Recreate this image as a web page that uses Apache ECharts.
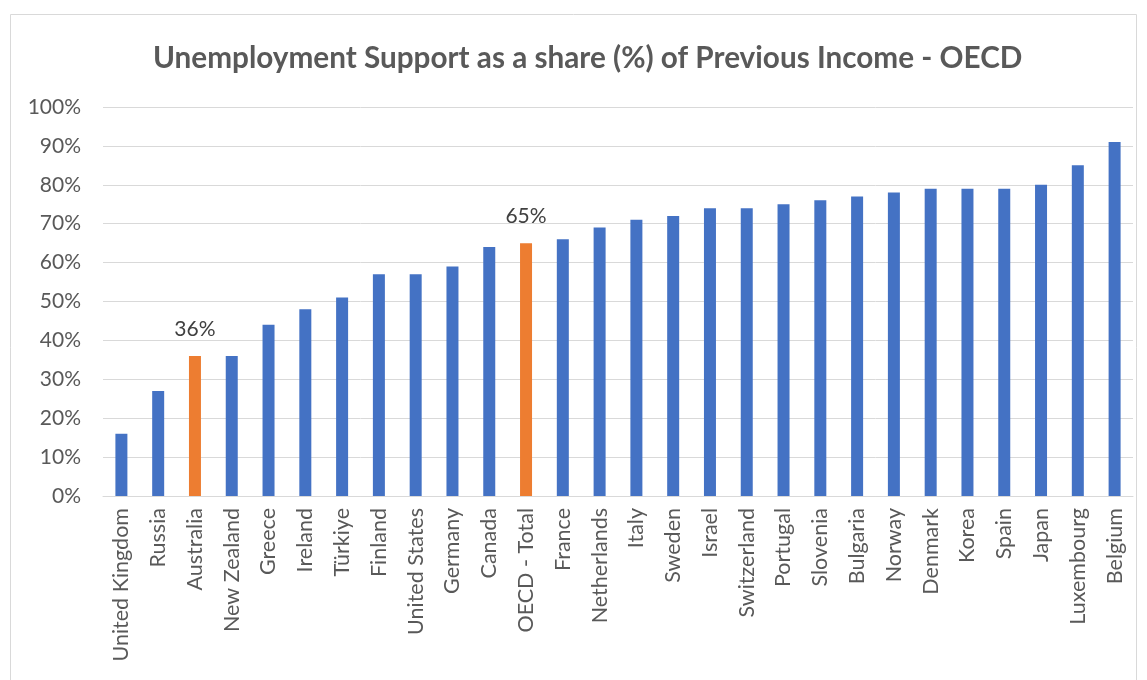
<!DOCTYPE html>
<html>
<head>
<meta charset="utf-8">
<script src="https://cdn.jsdelivr.net/npm/echarts@6/dist/echarts.min.js"></script>
<style>html,body{margin:0;padding:0;background:#fff;}#c{width:1147px;height:680px;}</style>
</head>
<body>
<div id="c"></div>
<script>
const categories = ["United Kingdom","Russia","Australia","New Zealand","Greece","Ireland","Türkiye","Finland","United States","Germany","Canada","OECD - Total","France","Netherlands","Italy","Sweden","Israel","Switzerland","Portugal","Slovenia","Bulgaria","Norway","Denmark","Korea","Spain","Japan","Luxembourg","Belgium"];
const values = [16,27,36,36,44,48,51,57,57,59,64,65,66,69,71,72,74,74,75,76,77,78,79,79,79,80,85,91];
const highlighted = ["Australia","OECD - Total"];
const yTicks = [0,10,20,30,40,50,60,70,80,90,100];

const FONT = 'Lato, "Liberation Sans", sans-serif';
const chart = echarts.init(document.getElementById('c'));
chart.setOption({
  animation: false,
  title: {
    text: 'Unemployment Support as a share (%) of Previous Income - OECD',
    left: 148, top: 38,
    textStyle: {fontFamily: FONT, fontSize: 29.7, fontWeight: 'bold', color: '#595959'}
  },
  graphic: [{type: 'rect', shape: {x: 10.5, y: 14.5, width: 1126, height: 700}, style: {fill: 'none', stroke: '#d9d9d9', lineWidth: 1}, z: -1}],
  grid: {left: 103, right: 14, top: 107, bottom: 184},
  xAxis: {
    type: 'category', data: categories,
    axisLine: {lineStyle: {color: '#d9d9d9', width: 1}},
    axisTick: {show: false},
    axisLabel: {rotate: 90, interval: 0, margin: 12, fontFamily: FONT, fontSize: 21.5, color: '#595959'}
  },
  yAxis: {
    type: 'value', min: yTicks[0], max: yTicks[yTicks.length-1], interval: 10,
    axisLine: {show: false}, axisTick: {show: false},
    splitLine: {lineStyle: {color: '#d9d9d9', width: 1}},
    axisLabel: {margin: 22, fontFamily: FONT, fontSize: 21, color: '#595959', formatter: v => v + '%'}
  },
  series: [{
    type: 'bar', barWidth: 12,
    data: values.map((v, i) => {
      const hi = highlighted.includes(categories[i]);
      return {
        value: v,
        itemStyle: {color: hi ? '#ED7D31' : '#4472C4'},
        label: {show: hi, position: 'top', distance: 16, formatter: v + '%', fontFamily: FONT, fontSize: 21, color: '#404040'}
      };
    })
  }]
});
</script>
</body>
</html>
